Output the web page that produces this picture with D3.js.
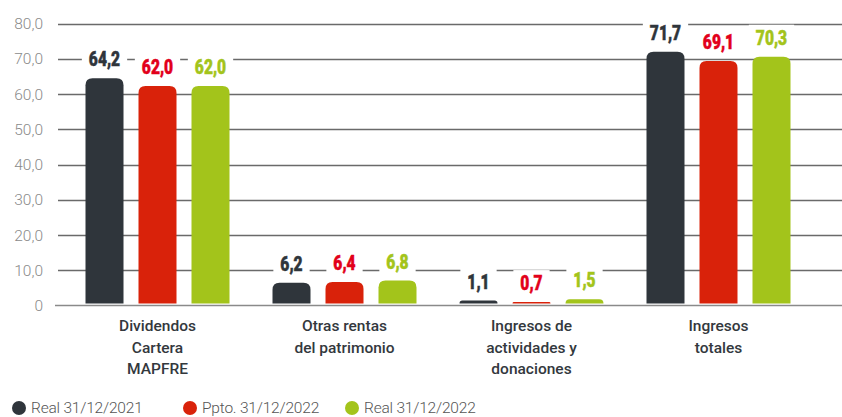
<!DOCTYPE html>
<html>
<head>
<meta charset="utf-8">
<script src="https://cdn.jsdelivr.net/npm/d3@7"></script>
<style>
  body { margin: 0; background: #fff; }
  svg { display: block; }
</style>
</head>
<body>
<svg></svg>
<script>
var categories = [
    ["Dividendos", "Cartera", "MAPFRE"],
    ["Otras rentas", "del patrimonio"],
    ["Ingresos de", "actividades y", "donaciones"],
    ["Ingresos", "totales"]
];
var series = ["Real 31/12/2021", "Ppto. 31/12/2022", "Real 31/12/2022"];
var real2021 = [64.2, 6.2, 1.1, 71.7];
var ppto2022 = [62.0, 6.4, 0.7, 69.1];
var real2022 = [62.0, 6.8, 1.5, 70.3];
var yTicks = [0, 10, 20, 30, 40, 50, 60, 70, 80];

var barColors = ["#2f353b", "#d9220a", "#a3c41b"];
var labelColors = ["#2f353b", "#e2001a", "#a3c41b"];

var svgWidth = 842, svgHeight = 417;
var svg = d3.select("svg")
    .attr("width", svgWidth)
    .attr("height", svgHeight);

var values = [real2021, ppto2022, real2022];
var comma = d3.formatLocale({decimal: ",", thousands: "."}).format(".1f");

var y = d3.scaleLinear().domain([0, 80]).range([305.5, 23.5]);
var x0 = d3.scaleBand().domain(d3.range(categories.length)).range([64, 812]);
var x1 = d3.scaleBand().domain(d3.range(series.length)).range([0, 144]).paddingInner(0.283);

// gridlines
svg.append("g")
    .selectAll("line")
    .data(yTicks.filter(function(d){ return d > 0; }))
    .enter()
    .append("line")
    .attr("x1", 58)
    .attr("x2", svgWidth)
    .attr("y1", function(d){ return Math.round(y(d)) + 0.5; })
    .attr("y2", function(d){ return Math.round(y(d)) + 0.5; })
    .attr("stroke", "#6a6a6a")
    .attr("stroke-width", 1.3);

// baseline
svg.append("line")
    .attr("x1", 55).attr("x2", svgWidth)
    .attr("y1", y(0)).attr("y2", y(0))
    .attr("stroke", "#8a8a8a")
    .attr("stroke-width", 1.5);

// y tick labels
svg.append("g")
    .selectAll("text")
    .data(yTicks)
    .enter()
    .append("text")
    .attr("x", 43)
    .attr("y", function(d){ return y(d); })
    .attr("dy", "0.36em")
    .attr("text-anchor", "end")
    .attr("font-family", "Roboto, sans-serif")
    .attr("font-weight", 300)
    .attr("font-size", 15.5)
    .attr("fill", "#8a8a8a")
    .text(function(d){ return d === 0 ? "0" : comma(d); });

// rounded-top bar path
function topRounded(x, yTop, w, h, r) {
    r = Math.min(r, h, w / 2);
    return "M" + x + "," + (yTop + h) +
        "V" + (yTop + r) +
        "Q" + x + "," + yTop + " " + (x + r) + "," + yTop +
        "H" + (x + w - r) +
        "Q" + (x + w) + "," + yTop + " " + (x + w) + "," + (yTop + r) +
        "V" + (yTop + h) + "Z";
}

var groups = svg.selectAll(".group")
    .data(categories)
    .enter()
    .append("g")
    .attr("class", "group")
    .attr("transform", function(d, i){
        return "translate(" + (x0(i) + x0.bandwidth() / 2 - 72) + ",0)";
    });

groups.selectAll("path")
    .data(function(d, i){
        return values.map(function(s, j){ return {s: j, v: s[i]}; });
    })
    .enter()
    .append("path")
    .attr("d", function(d){
        var top = y(d.v) - 1;
        return topRounded(x1(d.s), top, x1.bandwidth(), y(0) - 2 - top, 7);
    })
    .attr("fill", function(d){ return barColors[d.s]; });

// value labels (condensed look via scaleX) with white box behind
var sx = 0.78;
var labels = groups.selectAll(".val")
    .data(function(d, i){
        return values.map(function(s, j){ return {s: j, v: s[i]}; });
    })
    .enter()
    .append("g")
    .attr("class", "val")
    .attr("transform", function(d){
        return "translate(" + (x1(d.s) + x1.bandwidth() / 2) + "," + (y(d.v) - 13) + ") scale(" + sx + ",1)";
    });

labels.append("text")
    .attr("text-anchor", "middle")
    .attr("font-family", "Roboto, sans-serif")
    .attr("font-weight", 900)
    .attr("font-size", 20)
    .attr("stroke-width", 0.5)
    .attr("stroke", function(d){ return labelColors[d.s]; })
    .attr("fill", function(d){ return labelColors[d.s]; })
    .text(function(d){ return comma(d.v); });

labels.each(function(){
    var g = d3.select(this);
    var b = g.select("text").node().getBBox();
    g.insert("rect", "text")
        .attr("x", b.x - 7 / sx)
        .attr("y", b.y - 1)
        .attr("width", b.width + 14 / sx)
        .attr("height", b.height + 2)
        .attr("fill", "#fff");
});

// category labels
groups.append("text")
    .attr("text-anchor", "middle")
    .attr("font-family", "Roboto, sans-serif")
    .attr("font-weight", 500)
    .attr("font-size", 15.5)
    .attr("fill", "#33383d")
    .selectAll("tspan")
    .data(function(d){ return d; })
    .enter()
    .append("tspan")
    .attr("x", 72)
    .attr("y", function(d, i){ return 331 + i * 21.5; })
    .text(function(d){ return d; });

// legend
var legendX = [19, 190, 352];
var legend = svg.selectAll(".legend")
    .data(series)
    .enter()
    .append("g")
    .attr("class", "legend")
    .attr("transform", function(d, i){ return "translate(" + legendX[i] + ",408)"; });

legend.append("circle")
    .attr("r", 7)
    .attr("fill", function(d, i){ return barColors[i]; });

legend.append("text")
    .attr("x", 12)
    .attr("dy", "0.35em")
    .attr("font-family", "Roboto, sans-serif")
    .attr("font-weight", 300)
    .attr("font-size", 15.5)
    .attr("fill", "#555")
    .attr("letter-spacing", -0.2)
    .text(function(d){ return d; });
</script>
</body>
</html>
